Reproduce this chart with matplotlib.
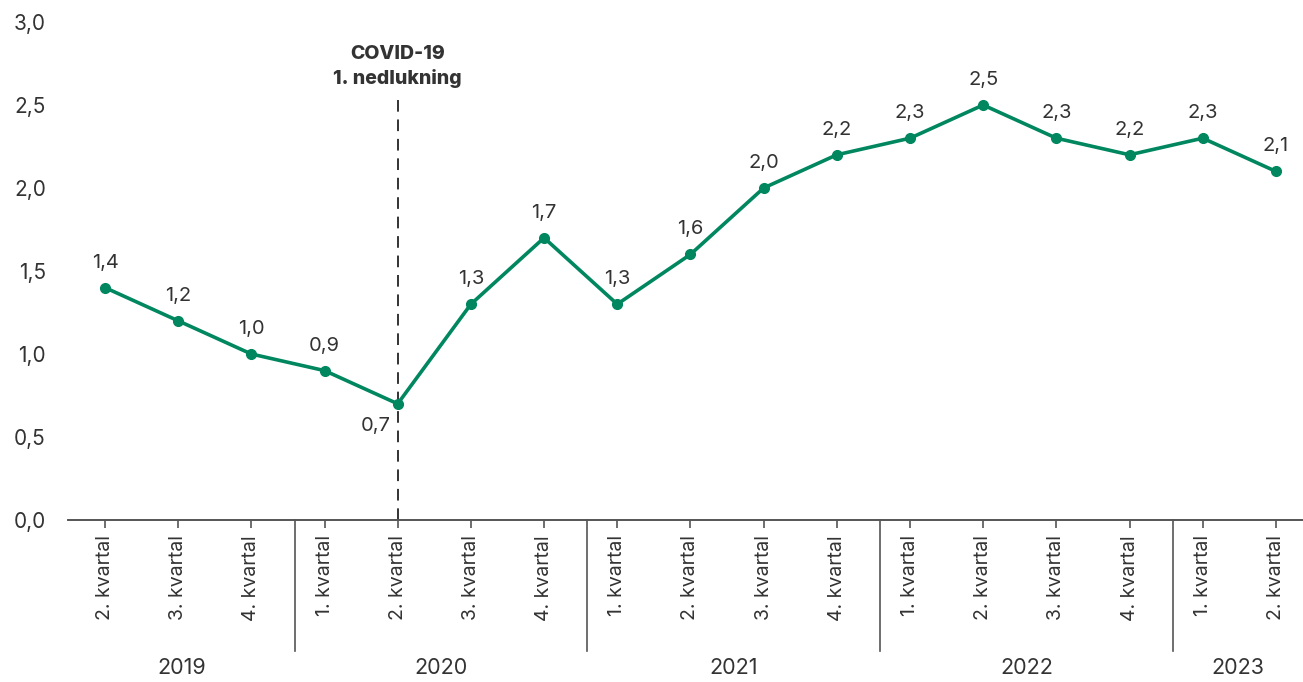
import matplotlib
matplotlib.use("Agg")
import matplotlib.pyplot as plt

quarters = ["2. kvartal", "3. kvartal", "4. kvartal",
            "1. kvartal", "2. kvartal", "3. kvartal", "4. kvartal",
            "1. kvartal", "2. kvartal", "3. kvartal", "4. kvartal",
            "1. kvartal", "2. kvartal", "3. kvartal", "4. kvartal",
            "1. kvartal", "2. kvartal"]
values = [1.4, 1.2, 1.0, 0.9, 0.7, 1.3, 1.7, 1.3, 1.6, 2.0, 2.2, 2.3, 2.5, 2.3, 2.2, 2.3, 2.1]
years = ["2019", "2020", "2021", "2022", "2023"]
year_counts = [3, 4, 4, 4, 2]
yticks = [0.0, 0.5, 1.0, 1.5, 2.0, 2.5, 3.0]
covid_index = 4
covid_label = "COVID-19\n1. nedlukning"

green = "#00875F"
textc = "#333333"
axc = "#555555"
plt.rcParams['font.family'] = ['Inter', 'DejaVu Sans']

fig = plt.figure(figsize=(13.03, 6.82), dpi=100)
L = 68 / 1303
B = 1 - 520 / 682
T = 1 - 22 / 682
ax = fig.add_axes([L, B, 1 - L, T - B])

x = list(range(len(values)))
ax.plot(x, values, color=green, lw=2.6, marker='o', ms=7, zorder=3, clip_on=False)

def fmt(v):
    return f"{v:.1f}".replace('.', ',')

for i, v in enumerate(values):
    if i == covid_index:
        ax.annotate(fmt(v), (i, v), xytext=(-16, -16), textcoords='offset points',
                    ha='center', va='center', fontsize=14.5, color=textc)
    else:
        ax.annotate(fmt(v), (i, v), xytext=(0, 18), textcoords='offset points',
                    ha='center', va='center', fontsize=14.5, color=textc)

ax.set_xlim(-0.505, 16.37)
ax.set_ylim(0, 3.0)
ax.set_yticks(yticks)
ax.set_yticklabels([fmt(v) for v in yticks], fontsize=15, color=textc)
ax.tick_params(axis='y', length=0, pad=16)

ax.set_xticks(x)
ax.set_xticklabels(quarters, rotation=90, fontsize=14, color=textc)
ax.tick_params(axis='x', length=6, width=1.2, color=axc, pad=5, direction='out')

for s in ['top', 'right', 'left']:
    ax.spines[s].set_visible(False)
ax.spines['bottom'].set_color(axc)
ax.spines['bottom'].set_linewidth(1.4)

# covid line
ax.plot([covid_index, covid_index], [0, 2.57], color='#333333', lw=1.4,
        linestyle=(0, (6, 4)), zorder=2)
ax.text(covid_index, 2.73, covid_label, ha='center', va='center', fontsize=14,
        fontweight='heavy', color=textc, linespacing=1.4)

# group separators and year labels
trans = ax.get_xaxis_transform()
start = 0
bounds = [-0.505]
for c in year_counts[:-1]:
    start += c
    pos = start - 0.5 + 0.09
    bounds.append(pos)
    ax.plot([pos, pos], [0, -131 / 498], transform=trans, color=axc,
            lw=1.2, clip_on=False)
bounds.append(16.37)
for j, yr in enumerate(years):
    cx = (bounds[j] + bounds[j + 1]) / 2
    ax.text(cx, -148 / 498, yr, transform=trans, ha='center', va='center',
            fontsize=15.5, color=textc)

fig.savefig("out.png", dpi=100)
